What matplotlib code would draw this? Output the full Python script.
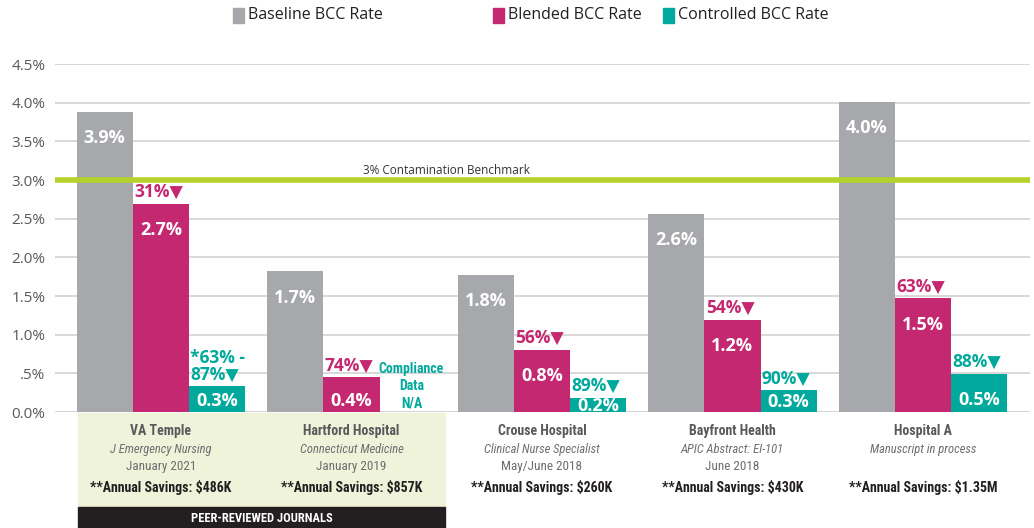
import numpy as np
import matplotlib
matplotlib.use("Agg")
import matplotlib.pyplot as plt
from matplotlib import font_manager
from matplotlib.patches import Rectangle

# datos
hospitales = ["VA Temple", "Hartford Hospital", "Crouse Hospital", "Bayfront Health", "Hospital A"]
revistas = ["J Emergency Nursing", "Connecticut Medicine", "Clinical Nurse Specialist",
            "APIC Abstract: EI-101", "Manuscript in process"]
fechas = ["January 2021", "January 2019", "May/June 2018", "June 2018", ""]
ahorros = ["$486K", "$857K", "$260K", "$430K", "$1.35M"]

baseline = [3.88, 1.82, 1.77, 2.56, 4.01]
blended = [2.69, 0.45, 0.80, 1.19, 1.47]
controlled = [0.33, np.nan, 0.18, 0.28, 0.49]

baseline_lbl = ["3.9%", "1.7%", "1.8%", "2.6%", "4.0%"]
blended_lbl = ["2.7%", "0.4%", "0.8%", "1.2%", "1.5%"]
controlled_lbl = ["0.3%", None, "0.2%", "0.3%", "0.5%"]
blended_baja = ["31%", "74%", "56%", "54%", "63%"]
controlled_baja = ["*63% -\n87%", None, "89%", "90%", "88%"]

yticks = [0, 0.5, 1.0, 1.5, 2.0, 2.5, 3.0, 3.5, 4.0, 4.5]
ytick_lbl = ["0.0%", ".5%", "1.0%", "1.5%", "2.0%", "2.5%", "3.0%", "3.5%", "4.0%", "4.5%"]
benchmark = 3.0

GRIS = "#a7a8ab"
MAGENTA = "#c42870"
TEAL = "#00a99b"
LIMA = "#b5d22c"


def elegir(fuentes):
    disponibles = {f.name for f in font_manager.fontManager.ttflist}
    for f in fuentes:
        if f in disponibles:
            return f
    return "DejaVu Sans"


def main():
    base = elegir(["Open Sans", "Noto Sans", "DejaVu Sans"])
    narrow = elegir(["Liberation Sans Narrow", "Roboto Condensed", "Open Sans Condensed", "Roboto"])
    plt.rcParams['font.family'] = [base, 'DejaVu Sans']

    fig = plt.figure(figsize=(10.34, 5.28), dpi=100)
    W, H = 1034, 528
    ax = fig.add_axes([55 / W, 116 / H, 975 / W, 348 / H])

    x = np.arange(len(hospitales))
    w = 0.295
    ax.bar(x - w, baseline, w, color=GRIS, zorder=3)
    ax.bar(x, blended, w, color=MAGENTA, zorder=3)
    ax.bar(x + w, controlled, w, color=TEAL, zorder=3)

    ax.set_xlim(-0.556, 4.562)
    ax.set_ylim(0, 4.5)
    ax.set_yticks(yticks)
    ax.set_yticklabels(ytick_lbl, color="#58595b", fontsize=11)
    ax.tick_params(axis='y', length=0, pad=7)
    ax.set_xticks([])
    for s in ax.spines.values():
        s.set_visible(False)
    ax.grid(axis='y', color="#d6d6d6", linewidth=1.3, zorder=0)
    ax.axhline(0, color="#d6d6d6", linewidth=1.5, zorder=1)

    # linea de referencia
    ax.axhline(benchmark, color=LIMA, linewidth=4, zorder=4)
    ax.annotate("3% Contamination Benchmark", (1.5, benchmark), xytext=(0, 2),
                textcoords='offset points', ha='center', va='bottom',
                fontsize=8.5, color="#333333")

    # etiquetas dentro de las barras
    def dentro(xs, vals, lbls):
        for xi, v, l in zip(xs, vals, lbls):
            if l is None:
                continue
            ax.text(xi, max(v - 0.34, min(0.145, v * 0.45)), l, ha='center', va='center',
                    color='white', fontsize=13, fontweight='bold', zorder=5)

    dentro(x - w, baseline, baseline_lbl)
    dentro(x, blended, blended_lbl)
    dentro(x + w, controlled, controlled_lbl)

    # porcentaje de reduccion
    def reduccion(xs, vals, lbls, color):
        for xi, v, l in zip(xs, vals, lbls):
            if l is None:
                continue
            ax.annotate(l + "\u25BC", (xi - w / 2, v), xytext=(1, 2),
                        textcoords='offset points', ha='left', va='bottom',
                        color=color, fontsize=12.5, fontweight='bold',
                        linespacing=0.9, zorder=5)

    reduccion(x, blended, blended_baja, MAGENTA)
    reduccion(x + w, controlled, controlled_baja, TEAL)

    ax.text(1 + w + 0.02, 0.02, "Compliance\nData\nN/A", ha='center', va='bottom',
            color=TEAL, fontsize=10, fontweight='bold', family=narrow,
            linespacing=1.3)

    # textos debajo
    tr = ax.get_xaxis_transform()
    ax.add_patch(Rectangle((-0.436, -0.275), 1.928, 0.272, transform=tr,
                           color="#eef3d9", clip_on=False, zorder=0))
    ax.add_patch(Rectangle((-0.436, -0.34), 1.928, 0.066, transform=tr,
                           color="#231f20", clip_on=False, zorder=0))
    ax.text(0.528, -0.305, "PEER-REVIEWED JOURNALS", transform=tr, ha='center',
            va='center', color='white', fontsize=9, fontweight='bold', family=narrow)

    for xi, n, r, f, a in zip(x, hospitales, revistas, fechas, ahorros):
        ax.text(xi, -0.055, n, transform=tr, ha='center', va='center',
                fontsize=10, fontweight='bold', color="#58595b", family=narrow)
        ax.text(xi, -0.108, r, transform=tr, ha='center', va='center',
                fontsize=9, style='italic', color="#6d6e71", family=narrow)
        if f:
            ax.text(xi, -0.157, f, transform=tr, ha='center', va='center',
                    fontsize=9.5, color="#6d6e71", family=narrow)
        ax.text(xi, -0.218, "**Annual Savings: " + a, transform=tr, ha='center',
                va='center', fontsize=10, fontweight='bold', color="#231f20", family=narrow)

    # leyenda
    leyenda = [("Baseline BCC Rate", GRIS, 233), ("Blended BCC Rate", MAGENTA, 493),
               ("Controlled BCC Rate", TEAL, 663)]
    for txt, c, px in leyenda:
        fig.add_artist(Rectangle((px / W, (H - 23) / H), 11 / W, 15 / H,
                                 transform=fig.transFigure, color=c))
        fig.text((px + 15) / W, (H - 15) / H, txt, ha='left', va='center',
                 fontsize=11.5, color="#231f20")

    plt.savefig("out.png", dpi=100)


if __name__ == "__main__":
    main()
